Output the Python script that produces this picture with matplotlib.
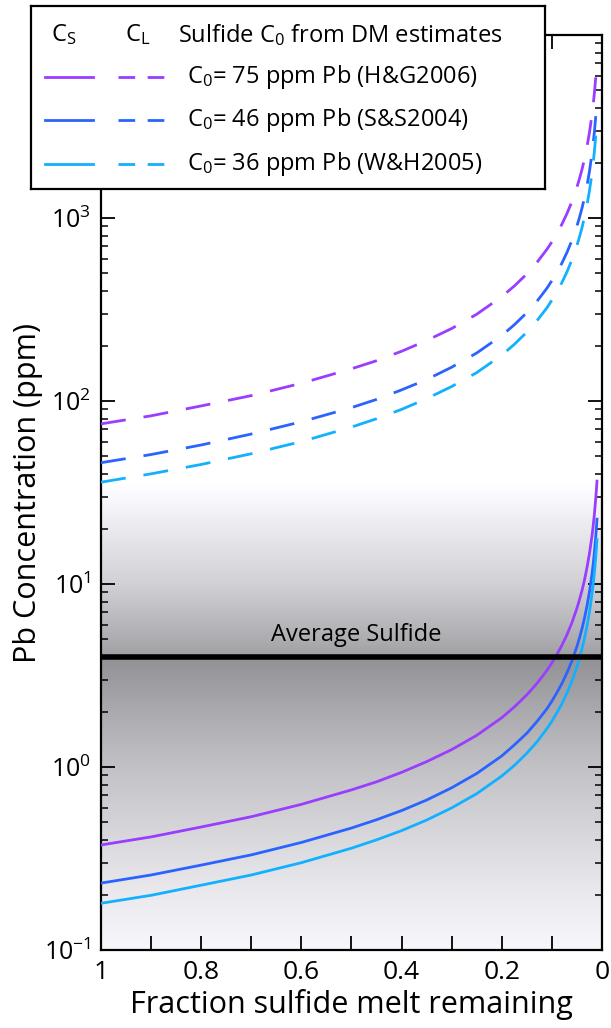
import matplotlib
matplotlib.use("Agg")
import matplotlib.pyplot as plt
import numpy as np

plt.rcParams['font.family'] = ['Open Sans', 'DejaVu Sans']
plt.rcParams['mathtext.fontset'] = 'custom'
plt.rcParams['mathtext.rm'] = 'Open Sans'
plt.rcParams['mathtext.it'] = 'Open Sans'

# fraction of sulfide melt remaining
F = [1, 0.9, 0.8, 0.7, 0.6, 0.5, 0.45, 0.4, 0.35, 0.3, 0.25, 0.2, 0.175, 0.15,
     0.13, 0.11, 0.1, 0.09, 0.08, 0.07, 0.06, 0.05, 0.045, 0.04, 0.035, 0.03,
     0.025, 0.02, 0.0175, 0.015, 0.0125, 0.011, 0.01]

# C_L curves (dashed), ppm
CL_75 = [75, 83, 94, 107, 125, 150, 166, 187, 214, 249, 298, 372, 425, 495,
         571, 674, 741, 823, 925, 1057, 1230, 1475, 1640, 1840, 2100, 2450,
         2935, 3665, 4185, 4880, 5850, 6640, 7300]
CL_46 = [46, 51, 57.5, 66, 77, 92, 102, 115, 131, 153, 183, 228, 261, 304,
         350, 413, 455, 505, 567, 648, 755, 905, 1005, 1130, 1290, 1500,
         1800, 2250, 2570, 2990, 3590, 4075, 4480]
CL_36 = [36, 40, 45, 51.5, 60, 72, 80, 90, 103, 120, 143, 178, 204, 238,
         274, 323, 356, 395, 444, 507, 591, 708, 787, 884, 1010, 1175,
         1410, 1760, 2010, 2340, 2810, 3190, 3500]

# C_S curves (solid), ppm
CS_75 = [0.375, 0.415, 0.47, 0.535, 0.625, 0.75, 0.83, 0.935, 1.07, 1.245,
         1.49, 1.86, 2.13, 2.48, 2.86, 3.37, 3.71, 4.12, 4.63, 5.28, 6.15,
         7.38, 8.2, 9.2, 10.5, 12.3, 14.7, 18.3, 20.9, 24.4, 29.3, 33.2, 36.5]
CS_46 = [0.232, 0.257, 0.291, 0.331, 0.387, 0.464, 0.515, 0.578, 0.66, 0.770,
         0.922, 1.15, 1.32, 1.53, 1.77, 2.08, 2.29, 2.55, 2.86, 3.27, 3.80,
         4.56, 5.07, 5.69, 6.5, 7.58, 9.08, 11.3, 12.9, 15.1, 18.1, 20.5, 22.6]
CS_36 = [0.18, 0.199, 0.226, 0.257, 0.30, 0.36, 0.40, 0.449, 0.513, 0.598,
         0.715, 0.893, 1.02, 1.19, 1.37, 1.62, 1.78, 1.98, 2.22, 2.54, 2.95,
         3.54, 3.93, 4.42, 5.05, 5.88, 7.04, 8.80, 10.0, 11.7, 14.0, 15.9, 17.5]

avg_sulfide = 4.0

labels = ["= 75 ppm Pb (H&G2006)", "= 46 ppm Pb (S&S2004)", "= 36 ppm Pb (W&H2005)"]
colors = ["#993dff", "#2a63ff", "#12b0ff"]

W, H = 611, 1028
fig = plt.figure(figsize=(W / 100, H / 100), dpi=100)
ax = fig.add_axes([101 / W, 1 - 950 / H, 501 / W, 915 / H])
ax.set_yscale('log')
ax.set_xlim(1, 0)
ax.set_ylim(0.1, 1e4)

# grey background shading (axes fraction -> gray level)
frac = np.linspace(0, 1, 1000)
logv = frac * 5 - 1
stops_v = np.log10([0.1, 0.2, 0.5, 1, 2, 3.99, 4.0, 5, 10, 20, 35, 1e4])
stops_g = [0.97, 0.92, 0.83, 0.76, 0.67, 0.57, 0.63, 0.68, 0.82, 0.92, 1.0, 1.0]
g = np.interp(logv, stops_v, stops_g)[::-1]
img = np.stack([g, g, np.clip(g + 0.015, 0, 1)], axis=-1).reshape(-1, 1, 3)
ax.imshow(img, extent=[0, 1, 0, 1], transform=ax.transAxes, aspect='auto',
          interpolation='bilinear', zorder=0)

cs_sets = [CS_75, CS_46, CS_36]
cl_sets = [CL_75, CL_46, CL_36]
for cs, cl, c in zip(cs_sets, cl_sets, colors):
    ax.plot(F, cs, color=c, lw=2.0, zorder=3)
    ax.plot(F, cl, color=c, lw=2.0, dashes=(9, 6.5), zorder=3)

ax.axhline(avg_sulfide, color='black', lw=4, zorder=4)
ax.text(0.49, avg_sulfide * 1.13, "Average Sulfide", ha='center', va='bottom',
        fontsize=17, zorder=5)

ax.set_xticks([1, 0.8, 0.6, 0.4, 0.2, 0])
ax.set_xticklabels(["1", "0.8", "0.6", "0.4", "0.2", "0"])
ax.set_xticks(np.arange(0.1, 1.0, 0.2), minor=True)
ax.tick_params(axis='x', which='both', direction='in', length=10, width=1.3,
               top=True, labelsize=19, pad=7)
ax.tick_params(axis='y', which='major', direction='in', length=10, width=1.3,
               right=True, labelsize=18, pad=7)
ax.tick_params(axis='y', which='minor', direction='in', length=5, width=1.1,
               right=True)
ax.set_yticks([0.1, 1, 10, 100, 1000])
ax.set_yticklabels([r'$\mathregular{10^{-1}}$', r'$\mathregular{10^{0}}$',
                    r'$\mathregular{10^{1}}$', r'$\mathregular{10^{2}}$',
                    r'$\mathregular{10^{3}}$'])
for s in ax.spines.values():
    s.set_linewidth(1.6)

ax.set_xlabel("Fraction sulfide melt remaining", fontsize=22, labelpad=3)
ax.set_ylabel("Pb Concentration (ppm)", fontsize=22, labelpad=1)

# legend box drawn by hand
lg = fig.add_axes([31 / W, 1 - 189 / H, 514 / W, 183 / H])
lg.set_xlim(31, 545)
lg.set_ylim(189, 6)
lg.set_xticks([])
lg.set_yticks([])
lg.set_facecolor('white')
for s in lg.spines.values():
    s.set_linewidth(1.6)
lg.text(51, 35, r'$\mathregular{C_S}$', fontsize=17, va='center')
lg.text(125, 35, r'$\mathregular{C_L}$', fontsize=17, va='center')
lg.text(178, 35, r'Sulfide $\mathregular{C_0}$ from DM estimates', fontsize=17, va='center')
rows = [77, 120, 164]
for y, c, lab in zip(rows, colors, labels):
    lg.plot([45, 93], [y, y], color=c, lw=2.0)
    lg.plot([118, 166], [y, y], color=c, lw=2.0, dashes=(6, 4.5))
    lg.text(187, y, r'$\mathregular{C_0}$' + lab, fontsize=17, va='center')

fig.savefig("out.png", dpi=100)
